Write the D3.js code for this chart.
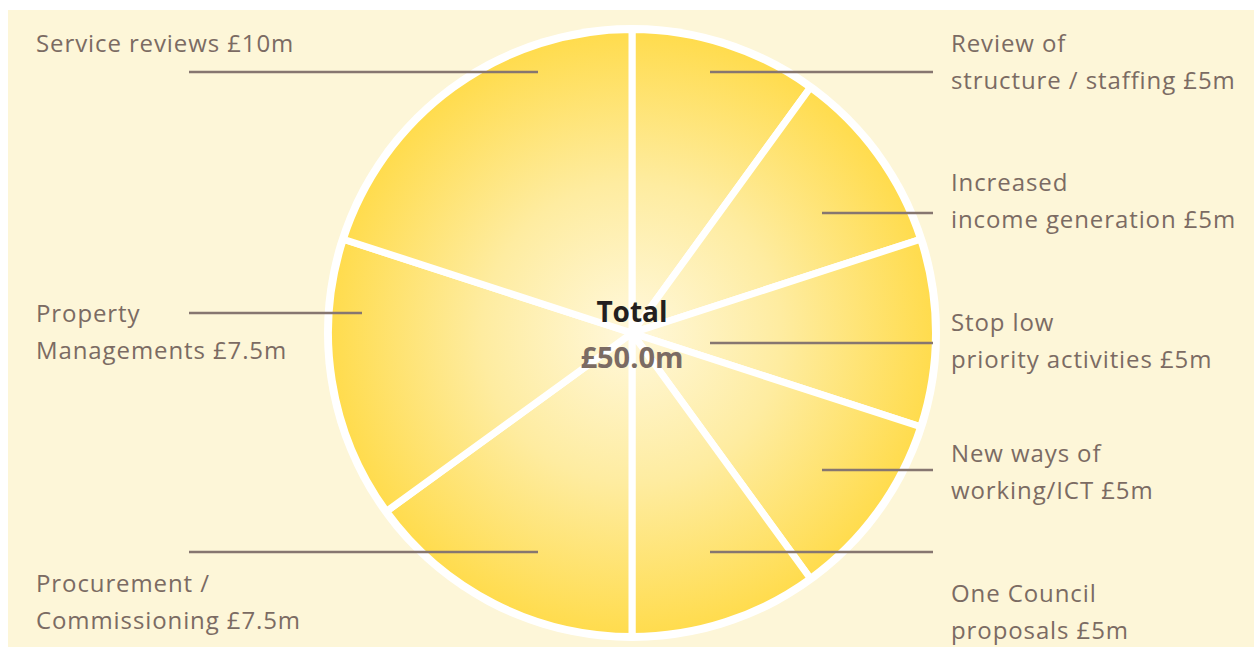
<!DOCTYPE html>
<html>
<head>
<meta charset="utf-8">
<script src="https://cdn.jsdelivr.net/npm/d3@7"></script>
<style>
  html, body { margin: 0; padding: 0; background: #fff; }
  svg { display: block; }
  text { font-family: "Open Sans", "Noto Sans", sans-serif; }
</style>
</head>
<body>
<svg width="1254" height="648"></svg>
<script>
// data
const labels = [
  ['Review of', 'structure / staffing £5m'],
  ['Increased', 'income generation £5m'],
  ['Stop low', 'priority activities £5m'],
  ['New ways of', 'working/ICT £5m'],
  ['One Council', 'proposals £5m'],
  ['Procurement /', 'Commissioning £7.5m'],
  ['Property', 'Managements £7.5m'],
  ['Service reviews £10m']
];
const values = [5, 5, 5, 5, 5, 7.5, 7.5, 10];
const totalLabel = 'Total';

// label layout: leader line y, inner end x, text baseline
const leaderY = [72, 213, 343, 470, 552, 552, 313, 72];
const leaderInnerX = [710, 822, 710, 822, 710, 538, 362, 538];
const textY = [52, 191, 331, 462, 602, 592, 322, 52];

const svg = d3.select('svg');
const width = 1254, height = 648;
const cx = 632, cy = 333, R = 308;

svg.append('rect')
  .attr('x', 8).attr('y', 10)
  .attr('width', width - 8).attr('height', height - 11)
  .attr('fill', '#fdf6d8');

const defs = svg.append('defs');
const grad = defs.append('radialGradient')
  .attr('id', 'pieGrad')
  .attr('gradientUnits', 'userSpaceOnUse')
  .attr('cx', 0).attr('cy', 0).attr('r', R - 8);
grad.append('stop').attr('offset', '0%').attr('stop-color', '#fff8dc');
grad.append('stop').attr('offset', '50%').attr('stop-color', '#feeca0');
grad.append('stop').attr('offset', '100%').attr('stop-color', '#ffdc4e');

const g = svg.append('g').attr('transform', `translate(${cx},${cy})`);

g.append('circle').attr('r', R).attr('fill', '#fff');

const pie = d3.pie().sort(null).value(d => d);
const arc = d3.arc().innerRadius(0).outerRadius(R - 4.5);

g.selectAll('path.slice').data(pie(values))
  .enter().append('path')
  .attr('class', 'slice')
  .attr('d', arc)
  .attr('fill', 'url(#pieGrad)')
  .attr('stroke', '#fff')
  .attr('stroke-width', 7)
  .attr('stroke-linejoin', 'round');

// leader lines and labels
const lineColor = '#867670';
const textColor = '#7b6b63';
values.forEach((v, i) => {
  const right = i < 5;
  const outerX = right ? 933 : 189;
  svg.append('line')
    .attr('x1', leaderInnerX[i]).attr('x2', outerX)
    .attr('y1', leaderY[i]).attr('y2', leaderY[i])
    .attr('stroke', lineColor)
    .attr('stroke-width', 2.5);

  const t = svg.append('text')
    .attr('x', right ? 951 : 36)
    .attr('y', textY[i])
    .attr('fill', textColor)
    .attr('font-size', 24)
    .attr('letter-spacing', 0.9);
  labels[i].forEach((s, j) => {
    t.append('tspan')
      .attr('x', right ? 951 : 36)
      .attr('dy', j === 0 ? 0 : 37)
      .text(s);
  });
});

// centre total
const total = d3.sum(values);
svg.append('text')
  .attr('x', cx).attr('y', 322)
  .attr('text-anchor', 'middle')
  .attr('font-size', 28).attr('font-weight', 'bold')
  .attr('fill', '#231f20')
  .text(totalLabel);
svg.append('text')
  .attr('x', cx).attr('y', 368)
  .attr('text-anchor', 'middle')
  .attr('font-size', 29).attr('font-weight', 'bold')
  .attr('fill', textColor)
  .text(`£${total.toFixed(1)}m`);
</script>
</body>
</html>
